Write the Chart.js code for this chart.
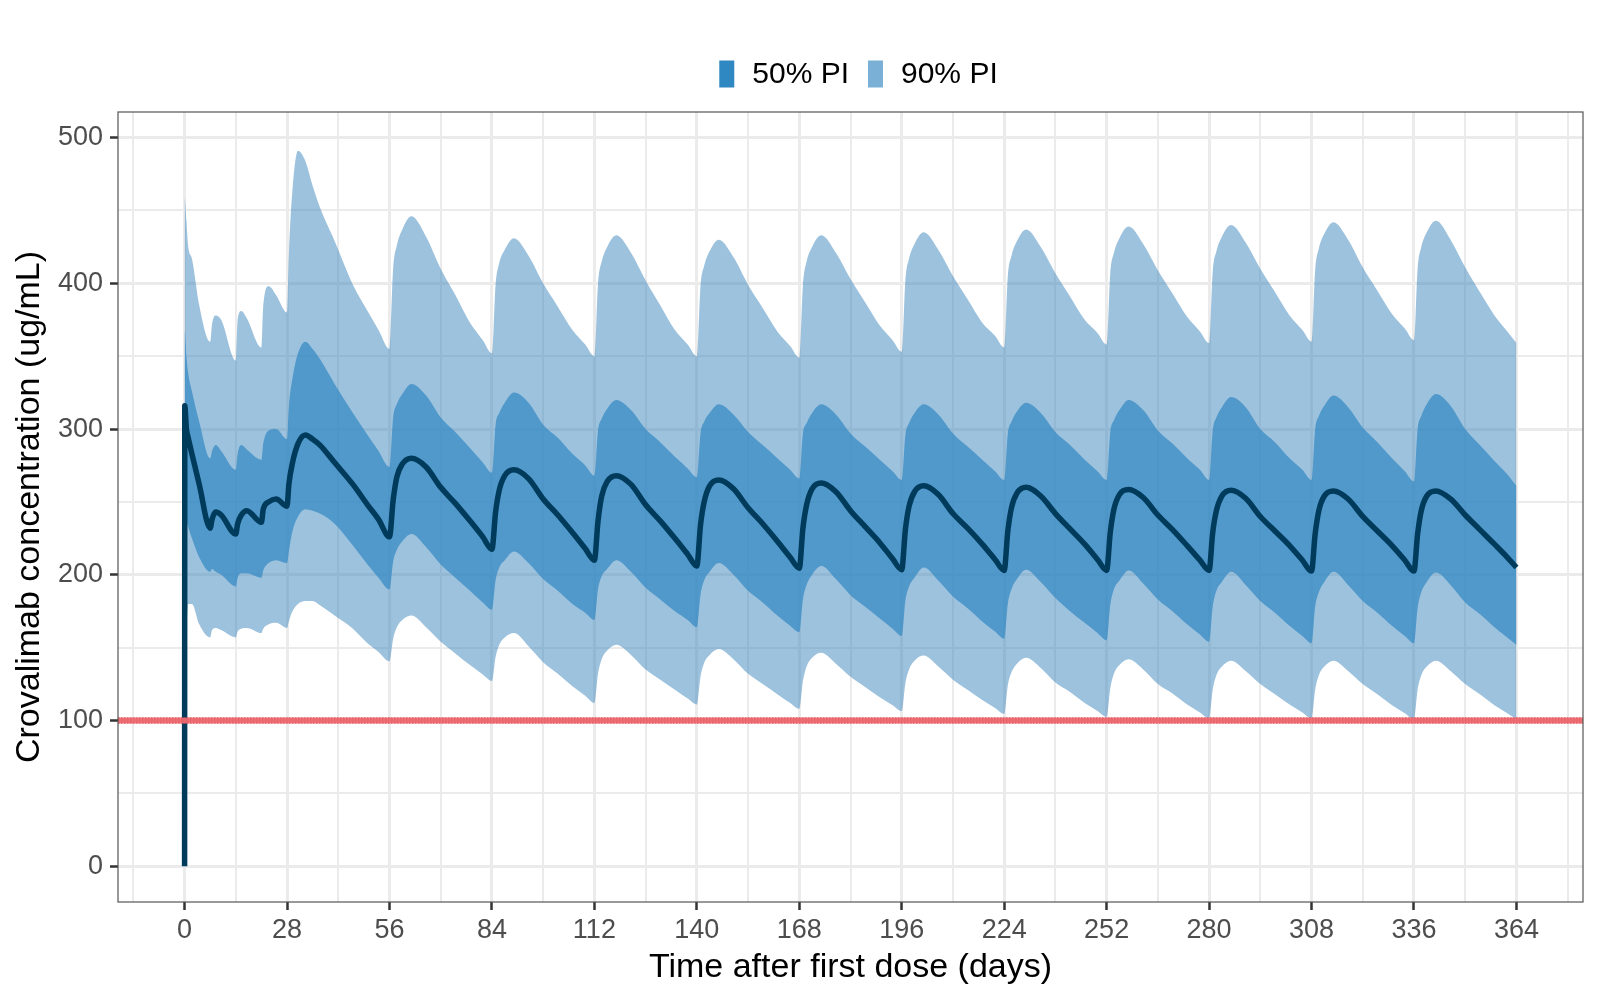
<!DOCTYPE html>
<html>
<head>
<meta charset="utf-8">
<script src="https://cdn.jsdelivr.net/npm/chart.js@4.4.1/dist/chart.umd.min.js"></script>
<style>
  html, body { margin: 0; padding: 0; background: #fff; }
  #wrap { width: 1600px; height: 1000px; position: relative; }
</style>
</head>
<body>
<div id="wrap"><canvas id="myChart"></canvas></div>
<script>
// time after first dose (days)
const days = [
  0, 0.05, 0.5, 1, 2, 4, 7, 7.5, 8.5, 10, 14, 14.5, 15.5, 17, 21, 21.5, 23, 25,
  28, 28.5, 29.5, 31, 33, 35, 37, 41, 46, 50, 53,
  56, 57, 58, 59.5, 62, 66, 70, 74, 78, 81.5,
  84, 85, 86, 87.5, 90, 94, 98, 102, 106, 109.5,
  112, 113, 114, 115.5, 118, 122, 126, 130, 134, 137.5,
  140, 141, 142, 143.5, 146, 150, 154, 158, 162, 165.5,
  168, 169, 170, 171.5, 174, 178, 182, 186, 190, 193.5,
  196, 197, 198, 199.5, 202, 206, 210, 214, 218, 221.5,
  224, 225, 226, 227.5, 230, 234, 238, 242, 246, 249.5,
  252, 253, 254, 255.5, 258, 262, 266, 270, 274, 277.5,
  280, 281, 282, 283.5, 286, 290, 294, 298, 302, 305.5,
  308, 309, 310, 311.5, 314, 318, 322, 326, 330, 333.5,
  336, 337, 338, 339.5, 342, 346, 350, 354, 358, 361.5,
  364
];

// 95th percentile (top of 90% PI)
const p95 = [
  458, 458, 443, 425, 417, 385, 360, 372, 378, 375, 347, 375, 381, 376, 356, 385, 398, 392,
  380, 420, 465, 491, 484, 467, 452, 429, 399, 381, 368,
  355, 410, 426, 437, 446, 432, 410, 392, 373, 361,
  352, 399, 414, 423, 431, 419, 400, 384, 368, 358,
  350, 400, 415, 425, 433, 421, 402, 385, 368, 358,
  350, 398, 412, 422, 430, 418, 399, 383, 367, 357,
  349, 399, 415, 425, 433, 421, 403, 387, 371, 361,
  353, 402, 417, 427, 435, 423, 405, 389, 373, 364,
  356, 405, 419, 429, 437, 425, 407, 391, 375, 366,
  358, 407, 421, 431, 439, 427, 409, 393, 377, 367,
  359, 408, 422, 432, 440, 428, 410, 394, 378, 368,
  360, 409, 424, 434, 442, 430, 411, 395, 379, 369,
  361, 410, 425, 435, 443, 430, 411, 394, 378, 367,
  359
];

// 75th percentile (top of 50% PI)
const p75 = [
  367, 367, 350, 338, 326, 305, 280, 285, 289, 285, 272, 283, 289, 286, 279, 290, 299, 300,
  293, 315, 335, 352, 360, 355, 348, 331, 311, 296, 285,
  274, 308, 317, 324, 331, 323, 308, 298, 287, 277,
  270, 303, 311, 318, 325, 318, 303, 294, 283, 275,
  268, 299, 307, 314, 320, 313, 300, 291, 281, 273,
  267, 297, 305, 311, 317, 310, 298, 289, 280, 272,
  266, 297, 304, 311, 317, 310, 297, 288, 279, 271,
  265, 296, 304, 311, 317, 310, 297, 288, 279, 271,
  265, 297, 305, 312, 318, 311, 298, 289, 279, 271,
  265, 298, 306, 313, 320, 313, 299, 290, 280, 272,
  265, 299, 308, 315, 322, 315, 300, 291, 280, 272,
  265, 300, 309, 316, 323, 315, 301, 291, 280, 271,
  264, 300, 309, 317, 324, 316, 300, 289, 278, 269,
  261
];

// median
const median = [
  0, 316, 300, 294, 283, 262, 232, 238, 243, 241, 228, 235, 241, 244, 236, 245, 250, 252,
  247, 262, 277, 290, 296, 293, 289, 277, 262, 248, 238,
  226, 251, 267, 276, 280, 274, 260, 249, 237, 226,
  217.5, 243, 258, 268, 272, 266, 252, 241, 229, 218,
  210, 237, 254, 264, 268, 262, 248, 237, 225, 214,
  206, 234, 250, 261, 265, 259, 246, 235, 223, 212,
  204.5, 232, 248, 259, 263, 257, 244, 233, 222, 211,
  203.5, 231, 247, 257, 261, 255, 242, 232, 221, 210.5,
  203, 230, 246, 256, 260, 254, 242, 231.5, 221, 210.5,
  203, 229, 245, 255, 258.5, 253, 241, 231, 220, 210,
  203, 229, 244, 254, 258, 252.5, 240, 230, 220, 210,
  202.5, 228, 244, 254, 257.5, 252, 240, 230, 220, 210,
  202.5, 228, 244, 254, 257.5, 252, 241, 231, 221, 212,
  205
];

// 25th percentile (bottom of 50% PI)
const p25 = [
  243, 243, 238, 233, 225, 212, 202, 204, 202, 200, 192, 198, 201, 201, 198, 203, 208, 210,
  208, 216, 230, 240, 245, 244, 242, 235, 220, 207, 198,
  190, 209, 217, 223, 228, 219, 207, 198, 189, 181,
  176, 196, 205, 210, 216, 208, 197, 189, 180, 174,
  169, 190, 199, 204, 210, 202, 191, 183, 175, 169,
  164, 186, 196, 202, 208, 200, 189, 181, 172, 165,
  160.5, 183, 193, 200, 206, 197, 186, 178, 170, 163,
  158, 182, 192, 198, 205, 196, 185, 177, 168, 161,
  156, 180, 190, 197, 203.5, 195, 184, 175, 167, 160,
  155, 179, 190, 196, 203, 194, 183, 175, 166, 159,
  154, 178, 189, 195, 202, 193, 182, 174, 165, 158,
  153, 178, 188, 195, 202, 193, 182, 174, 165, 158,
  153, 177, 188, 195, 201.5, 193, 181, 173, 164, 157,
  152
];

// 5th percentile (bottom of 90% PI)
const p05 = [
  120, 120, 160, 180, 180, 166, 157, 162, 163.5, 162, 157, 161, 163, 163.5, 160, 163, 166, 167,
  163.5, 168, 175, 180, 182, 182, 179, 172, 163, 153, 147,
  140.6, 156, 164, 169, 172, 164, 154, 146, 138, 131.5,
  127, 143.5, 152, 157, 160, 151, 140, 132, 123.5, 117,
  112, 132, 142, 148, 152, 145, 135, 128, 121, 115,
  111, 130, 139.5, 145, 149, 142, 132, 125, 118, 112,
  108, 127, 137, 143, 146.5, 139, 130, 123, 116, 110.5,
  106.5, 125.5, 135, 141, 144.5, 137, 128, 121, 114, 108.5,
  104.5, 124, 133, 139, 143, 136, 126, 119.5, 112, 106.5,
  102.5, 122, 132, 138, 142, 135, 125, 118.5, 111, 105.5,
  101.5, 121, 131, 137, 141, 134, 125, 118, 111, 105.5,
  101.5, 121, 131, 137, 141, 134, 125, 118, 110.5, 105,
  101, 121, 131, 137, 141, 134, 125, 118, 110.5, 105,
  101
];

const threshold = 100;
const xTickLabels = [0, 28, 56, 84, 112, 140, 168, 196, 224, 252, 280, 308, 336, 364];
const yTickLabels = [0, 100, 200, 300, 400, 500];
const legendLabels = ['50% PI', '90% PI'];
const legendColors = ['#3088C2', '#7AB0D6'];

// ggplot style 5% expansion of the data range
const xMin = -18.2, xMax = 382.2;
const yMin = -24.6, yMax = 517.6;
const FONT = '"Liberation Sans", Arial, Helvetica, sans-serif';

const toPoints = vals => days.map((d, i) => ({ x: d, y: vals[i] }));

// major ticks plus the minor grid lines half way between them
function withMinor(major, lo, hi) {
  const step = major[1] - major[0];
  const out = [];
  for (let v = major[0] - step / 2; v <= hi; v += step / 2) {
    if (v >= lo) out.push({ value: v });
  }
  return out;
}

// panel border drawn over the data, like ggplot theme_bw
const panelBox = {
  id: 'panelBox',
  afterDatasetsDraw(chart) {
    const { ctx, chartArea: a } = chart;
    ctx.save();
    ctx.strokeStyle = '#555555';
    ctx.lineWidth = 1.2;
    ctx.strokeRect(a.left, a.top, a.right - a.left, a.bottom - a.top);
    ctx.restore();
  }
};

// legend on top (tall thin keys)
const topLegend = {
  id: 'topLegend',
  afterDraw(chart) {
    const ctx = chart.ctx;
    const a = chart.chartArea;
    ctx.save();
    ctx.font = '30px ' + FONT;
    ctx.textBaseline = 'middle';
    ctx.textAlign = 'left';
    const boxW = 15, boxH = 27, gap = 18, itemGap = 19;
    const widths = legendLabels.map(t => ctx.measureText(t).width);
    let total = 0;
    widths.forEach((w, i) => { total += boxW + gap + w + (i < widths.length - 1 ? itemGap : 0); });
    let x = (a.left + a.right) / 2 + 8 - total / 2;
    const cy = 74;
    legendLabels.forEach((t, i) => {
      ctx.fillStyle = legendColors[i];
      ctx.fillRect(x, cy - boxH / 2, boxW, boxH);
      x += boxW + gap;
      ctx.fillStyle = '#000000';
      ctx.fillText(t, x, cy + 1);
      x += widths[i] + itemGap;
    });
    ctx.restore();
  }
};

const band = { borderWidth: 0, pointRadius: 0, cubicInterpolationMode: 'monotone' };

const config = {
  type: 'line',
  data: {
    datasets: [
      Object.assign({ label: '90% PI', data: toPoints(p95), fill: '+1', backgroundColor: 'rgba(59,133,189,0.5)', order: 3 }, band),
      Object.assign({ label: 'p05', data: toPoints(p05), fill: false, order: 3 }, band),
      Object.assign({ label: '50% PI', data: toPoints(p75), fill: '+1', backgroundColor: 'rgba(48,136,194,0.7)', order: 2 }, band),
      Object.assign({ label: 'p25', data: toPoints(p25), fill: false, order: 2 }, band),
      { label: 'Median', data: toPoints(median), fill: false, borderColor: '#003B5C', borderWidth: 5.5,
        borderJoinStyle: 'round', cubicInterpolationMode: 'monotone', pointRadius: 0, order: 1 },
      { label: 'threshold', data: [{ x: xMin, y: threshold }, { x: xMax, y: threshold }], fill: false,
        borderColor: 'rgba(236,105,112,0.95)', borderWidth: 6, pointRadius: 0, order: 0 },
      { label: 'threshold dash', data: [{ x: xMin, y: threshold }, { x: xMax, y: threshold }], fill: false,
        borderColor: 'rgba(200,20,35,0.95)', borderWidth: 6, borderDash: [1.5, 1.5], pointRadius: 0, order: 0 }
    ]
  },
  options: {
    responsive: true,
    maintainAspectRatio: false,
    animation: false,
    layout: { padding: { top: 112, right: 17, bottom: 10, left: 0 } },
    plugins: {
      legend: { display: false },
      tooltip: { enabled: false }
    },
    elements: { point: { radius: 0 }, line: { tension: 0 } },
    scales: {
      x: {
        type: 'linear',
        min: xMin,
        max: xMax,
        afterBuildTicks: s => { s.ticks = withMinor(xTickLabels, xMin, xMax); },
        afterFit: s => { s.height = 88; },
        border: { display: false },
        grid: {
          color: '#EBEBEB',
          lineWidth: c => (c.tick && c.tick.value % 28 === 0 ? 3 : 2),
          tickColor: c => (c.tick && xTickLabels.includes(c.tick.value) ? '#333333' : 'rgba(0,0,0,0)'),
          tickLength: 8,
          tickWidth: 2.5
        },
        ticks: {
          autoSkip: false,
          maxRotation: 0,
          padding: 4,
          color: '#4D4D4D',
          font: { family: FONT, size: 27 },
          callback: v => (xTickLabels.includes(v) ? String(v) : '')
        },
        title: {
          display: true,
          text: 'Time after first dose (days)',
          color: '#000000',
          font: { family: FONT, size: 34 },
          padding: { top: 0, bottom: 2 }
        }
      },
      y: {
        type: 'linear',
        min: yMin,
        max: yMax,
        afterBuildTicks: s => { s.ticks = withMinor(yTickLabels, yMin, yMax); },
        afterFit: s => { s.width = 118; },
        border: { display: false },
        grid: {
          color: '#EBEBEB',
          lineWidth: c => (c.tick && c.tick.value % 100 === 0 ? 3 : 2),
          tickColor: c => (c.tick && yTickLabels.includes(c.tick.value) ? '#333333' : 'rgba(0,0,0,0)'),
          tickLength: 8,
          tickWidth: 2.5
        },
        ticks: {
          autoSkip: false,
          padding: 7,
          color: '#4D4D4D',
          font: { family: FONT, size: 27 },
          callback: v => (yTickLabels.includes(v) ? String(v) : '')
        },
        title: {
          display: true,
          text: 'Crovalimab concentration (ug/mL)',
          color: '#000000',
          font: { family: FONT, size: 34 },
          padding: { top: 9, bottom: 0 }
        }
      }
    }
  },
  plugins: [panelBox, topLegend]
};

var myChart = new Chart(document.getElementById('myChart'), config);
</script>
</body>
</html>
